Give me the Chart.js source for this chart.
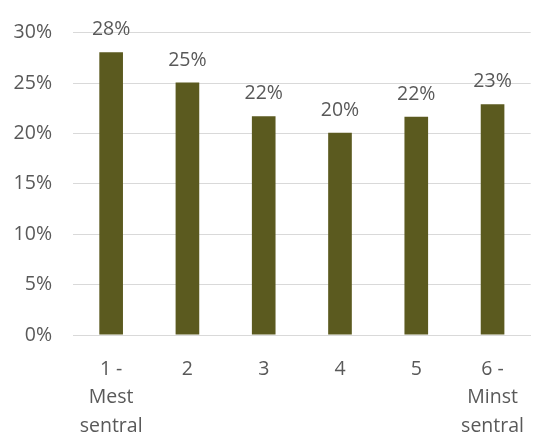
<!DOCTYPE html>
<html>
<head>
<meta charset="utf-8">
<script src="https://cdn.jsdelivr.net/npm/chart.js@4/dist/chart.umd.min.js"></script>
<style>
  html, body { margin: 0; padding: 0; background: #ffffff; }
  #wrap { width: 545px; height: 432px; position: relative; }
</style>
</head>
<body>
<div id="wrap"><canvas id="c"></canvas></div>
<script>
const categories = [["1 -", "Mest", "sentral"], "2", "3", "4", "5", ["6 -", "Minst", "sentral"]];
const values = [28.05, 25.05, 21.7, 20.07, 21.65, 22.9];
const yTicks = [0, 5, 10, 15, 20, 25, 30];

const FONT = "'Open Sans', sans-serif";
const TEXT = "#595959";

const valueLabels = {
  id: "valueLabels",
  afterDatasetsDraw(chart) {
    const ctx = chart.ctx;
    const meta = chart.getDatasetMeta(0);
    ctx.save();
    ctx.font = "19.5px " + FONT;
    ctx.fillStyle = TEXT;
    ctx.textAlign = "center";
    ctx.textBaseline = "alphabetic";
    meta.data.forEach((bar, i) => {
      ctx.fillText(Math.round(values[i]) + "%", bar.x, bar.y - 17);
    });
    ctx.restore();
  }
};

new Chart(document.getElementById("c"), {
  type: "bar",
  data: {
    labels: categories,
    datasets: [{
      data: values,
      backgroundColor: "#5b5a1f",
      borderWidth: 0,
      barPercentage: 0.31,
      categoryPercentage: 1.0
    }]
  },
  options: {
    responsive: true,
    maintainAspectRatio: false,
    animation: false,
    layout: { padding: { top: 32, right: 12, left: 0, bottom: 0 } },
    plugins: { legend: { display: false }, tooltip: { enabled: false } },
    scales: {
      x: {
        grid: { display: false, drawTicks: false },
        border: { display: true, color: "#d9d9d9", width: 1 },
        ticks: {
          color: TEXT,
          font: { family: FONT, size: 19.5, lineHeight: 1.46 },
          padding: 20,
          maxRotation: 0,
          autoSkip: false
        },
        afterFit(scale) { scale.height = 97; }
      },
      y: {
        min: 0,
        max: 30,
        afterBuildTicks(scale) { scale.ticks = yTicks.map(v => ({ value: v })); },
        grid: { color: "#d9d9d9", lineWidth: 1, drawTicks: false },
        border: { display: false },
        ticks: {
          color: TEXT,
          font: { family: FONT, size: 19.5 },
          padding: 21,
          callback: v => v + "%"
        },
        afterFit(scale) { scale.width = 73; }
      }
    }
  },
  plugins: [valueLabels]
});
</script>
</body>
</html>
